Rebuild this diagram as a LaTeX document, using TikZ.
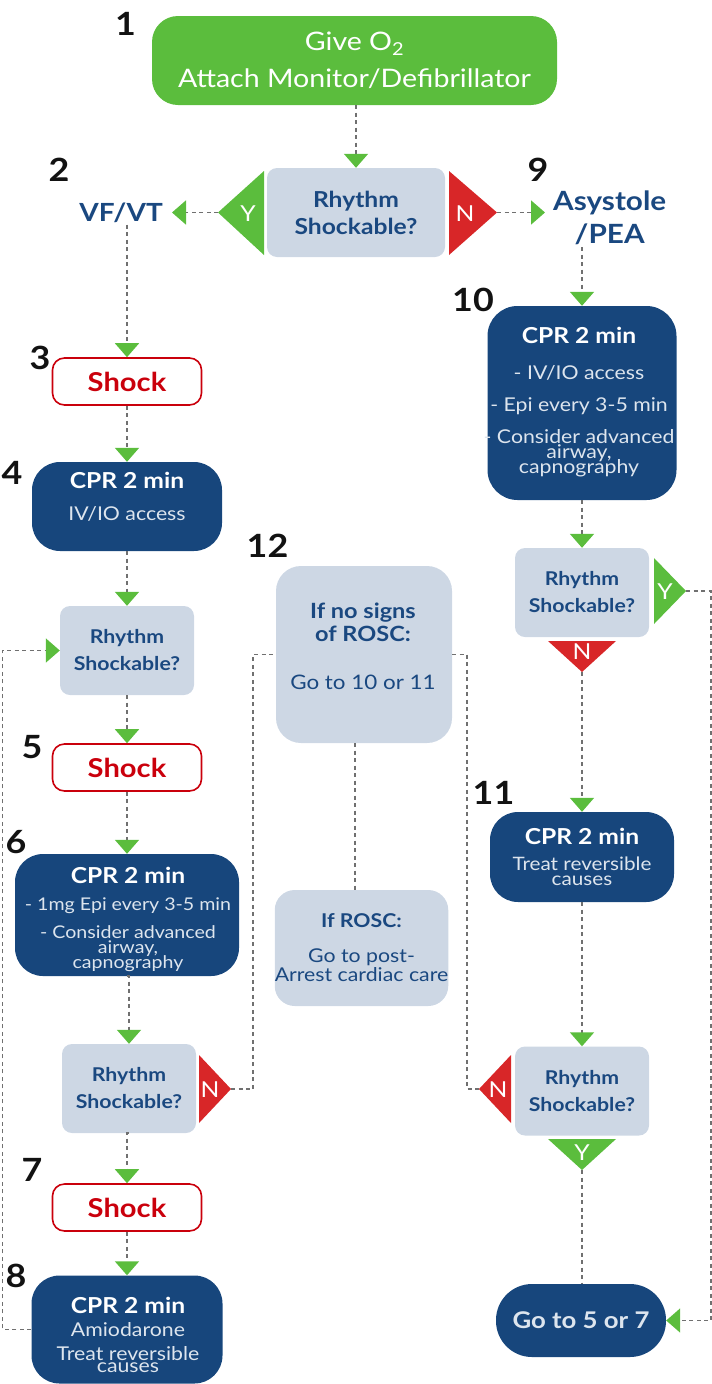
\documentclass[tikz,border=0pt]{standalone}
\usepackage{fontspec}
\setmainfont{Lato}[FakeStretch=1.12]
\usetikzlibrary{arrows.meta}
\definecolor{cgreen}{HTML}{5BBD3D}
\definecolor{cnred}{HTML}{D82628}
\definecolor{cdark}{HTML}{17467C}
\definecolor{clight}{HTML}{CDD7E4}
\definecolor{ctext}{HTML}{1A4880}
\definecolor{cshock}{HTML}{CA000C}
\definecolor{csub}{HTML}{DDE5EE}
\definecolor{cgray}{HTML}{707070}
\newcommand\fsz[2]{\fontsize{#1}{#2}\selectfont}
\lineskiplimit=-100pt
\begin{document}
\begin{tikzpicture}[x=1pt,y=-1pt,
  greenbox/.style={fill=cgreen, rounded corners=26pt, inner sep=0pt},
  darkbox/.style={fill=cdark, rounded corners=28pt, inner sep=0pt},
  lightbox/.style={fill=clight, rounded corners=10pt, inner sep=0pt},
  decbox/.style={lightbox, minimum width=134pt, minimum height=89pt, text=ctext, align=center, font=\bfseries\fsz{19}{27}},
  shockbox/.style={draw=cshock, line width=1.6pt, fill=white, rounded corners=12pt, inner sep=0pt, minimum width=149pt, minimum height=47pt, text=cshock, font=\bfseries\fsz{26}{30}},
  txt/.style={inner sep=0pt, align=center},
  wtxt/.style={txt, text=csub},
  yn/.style={inner sep=0pt, text=white, font=\fsz{22}{22}},
  num/.style={inner sep=0pt, text=black!93, font=\bfseries\fsz{32}{32}},
  conn/.style={draw=cgray, line width=1.8pt, dash pattern=on 4pt off 3.5pt},
  arr/.style={conn, -{Triangle[length=14pt,width=24pt,color=cgreen]}}
]
\useasboundingbox (0,0) rectangle (712,1384);

% ---------- top ----------
\node[greenbox, minimum width=405pt, minimum height=89pt, text=white, align=center, font=\fsz{25.5}{37}] (b1) at (354.5,60.5) {Give O\textsubscript{2}\\Attach Monitor/Defibrillator};
\node[decbox, minimum width=178pt, font=\bfseries\fsz{22}{27}] (d1) at (356,212.5) {Rhythm\\Shockable?};
\fill[cgreen] (264,171) -- (264,255) -- (218,212.5) -- cycle;
\coordinate (y1) at (218,212.5);
\node[yn] (y1l) at (248,214) {Y};
\fill[cnred] (449,171) -- (449,255) -- (497,212.5) -- cycle;
\coordinate (n1) at (497,212.5);
\node[yn] (n1l) at (465,214) {N};
\node[anchor=east, inner xsep=9pt, inner ysep=2pt, text=ctext, font=\bfseries\fsz{25}{30}] (vf) at (172,212.5) {VF/VT};
\node[anchor=west, inner xsep=8pt, inner ysep=2pt, align=center, text=ctext, font=\bfseries\fsz{26.5}{33}] (asys) at (545,218) {Asystole\\/PEA};

% ---------- left column ----------
\node[shockbox] (s3) at (127,381.5) {Shock};
\node[darkbox, minimum width=190pt, minimum height=89pt] (b4) at (127,506.5) {};
\node[wtxt, font=\fsz{19}{32}] (b4t) at (127,496.5) {{\color{white}\bfseries\fsz{22}{32}CPR 2 min}\\IV/IO access};
\node[decbox] (d2) at (127,650.5) {Rhythm\\Shockable?};
\node[shockbox] (s5) at (127,767.5) {Shock};
\node[darkbox, minimum width=224pt, minimum height=122pt] (b6) at (127,915) {};
\node[wtxt, font=\fsz{17.5}{15}] (b6t) at (128,919) {{\color{white}\bfseries\fsz{22}{15}CPR 2 min}\\[12pt]- 1mg Epi every 3-5 min\\[13pt]- Consider advanced\\airway,\\capnography};
\node[decbox] (d3) at (129,1088.5) {Rhythm\\Shockable?};
\fill[cnred] (199,1055) -- (199,1123) -- (231,1089) -- cycle;
\coordinate (n3) at (231,1089);
\node[yn] (n3l) at (210,1090) {N};
\node[shockbox] (s7) at (127,1207.5) {Shock};
\node[darkbox, minimum width=191pt, minimum height=108pt] (b8) at (127,1329.5) {};
\node[wtxt, font=\fsz{19}{12}] (b8t) at (128,1334.5) {{\color{white}\bfseries\fsz{22}{12}CPR 2 min}\\[11pt]Amiodarone\\[12pt]Treat reversible\\causes};

% ---------- centre ----------
\node[lightbox, rounded corners=25pt, minimum width=176pt, minimum height=177pt] (b12) at (364,654.5) {};
\node[txt, text=ctext, font=\fsz{20}{23}] (b12t) at (363,646) {{\bfseries\fsz{21}{23}If no signs}\\{\bfseries\fsz{21}{23}of ROSC:}\\[25pt]Go to 10 or 11};
\node[lightbox, rounded corners=20pt, minimum width=171pt, minimum height=116pt, text=ctext, align=center, font=\fsz{19}{19}] (rosc) at (361.5,948) {{\bfseries If ROSC:}\\[16pt]Go to post-\\Arrest cardiac care};

% ---------- right column ----------
\node[darkbox, rounded corners=30pt, minimum width=189pt, minimum height=194pt] (b10) at (582,403) {};
\node[wtxt, font=\fsz{19}{15}] (b10t) at (579,402) {{\color{white}\bfseries\fsz{22}{15}CPR 2 min}\\[21pt]- IV/IO access\\[17pt]- Epi every 3-5 min\\[17pt]- Consider advanced\\airway,\\capnography};
\node[decbox] (d4) at (582,592.5) {Rhythm\\Shockable?};
\fill[cgreen] (654,558) -- (654,624) -- (686,591) -- cycle;
\coordinate (y4) at (686,591);
\node[yn] (y4l) at (665,592) {Y};
\fill[cnred] (548,641) -- (616,641) -- (582,672) -- cycle;
\coordinate (n4) at (582,672);
\node[yn] (n4l) at (582,652) {N};
\node[darkbox, minimum width=184pt, minimum height=90pt, text=csub, align=center, font=\fsz{18.5}{15}] (b11) at (582,857) {{\color{white}\bfseries\fsz{22}{15}CPR 2 min}\\[11pt]Treat reversible\\causes};
\node[decbox] (d5) at (582,1091) {Rhythm\\Shockable?};
\fill[cnred] (511,1055) -- (511,1123) -- (479,1089) -- cycle;
\coordinate (n5) at (479,1089);
\node[yn] (n5l) at (498,1090) {N};
\fill[cgreen] (548,1139) -- (616,1139) -- (582,1170) -- cycle;
\coordinate (y5) at (582,1170);
\node[yn] (y5l) at (582,1153) {Y};
\node[darkbox, rounded corners=36pt, minimum width=170pt, minimum height=73pt, text=csub, font=\bfseries\fsz{23}{23}] (go) at (581,1320.5) {Go to 5 or 7};

% ---------- step numbers ----------
\node[num] (l1) at (125.5,23.5) {1};
\node[num] (l2) at (59,170) {2};
\node[num] (l9) at (538,170) {9};
\node[num] (l3) at (40,357.5) {3};
\node[num] (l4) at (12,473) {4};
\node[num] (l12) at (267.5,545.5) {12};
\node[num] (l10) at (473,299.5) {10};
\node[num] (l5) at (32,747.5) {5};
\node[num] (l6) at (16,842) {6};
\node[num] (l11) at (493.5,793) {11};
\node[num] (l7) at (32,1169.5) {7};
\node[num] (l8) at (16,1275.5) {8};

% ---------- connectors ----------
\coordinate (lx) at (2.5,0);
\coordinate (ml) at (253,0);
\coordinate (mr) at (467,0);
\coordinate (cx) at (355,0);
\coordinate (rx) at (711,0);
\draw[arr] (b1.south -| d1.north) -- (d1.north);
\draw[arr] (y1) -- (vf.east);
\draw[arr] (n1) -- (n1 -| asys.west);
\draw[arr] (vf.south -| s3.north) -- (s3.north);
\draw[arr] (s3.south) -- (b4.north);
\draw[arr] (b4.south) -- (d2.north);
\draw[arr] (d2.south) -- (s5.north);
\draw[arr] (s5.south) -- (b6.north);
\draw[arr] (b6.south) -- (b6.south -| d3.north) -- (d3.north);
\draw[arr] (d3.south) -- (d3.south -| s7.north) -- (s7.north);
\draw[arr] (s7.south) -- (b8.north);
\draw[arr] (b8.west) -- (b8.west -| lx) -- (lx |- d2.west) -- (d2.west);
\draw[conn] (n3) -- (n3 -| ml) -- (ml |- b12.west) -- (b12.west);
\draw[conn] (b12.east) -- (b12.east -| mr) -- (mr |- n5) -- (n5);
\draw[conn] (b12.south -| cx) -- (rosc.north -| cx);
\draw[arr] (asys.south -| b10.north) -- (b10.north);
\draw[arr] (b10.south) -- (d4.north);
\draw[arr] (n4) -- (b11.north);
\draw[arr] (b11.south) -- (d5.north);
\draw[conn] (y5) -- (y5 |- go.north);
\draw[arr] (y4) -- (y4 -| rx) -- (rx |- go.east) -- (go.east);
\end{tikzpicture}
\end{document}
